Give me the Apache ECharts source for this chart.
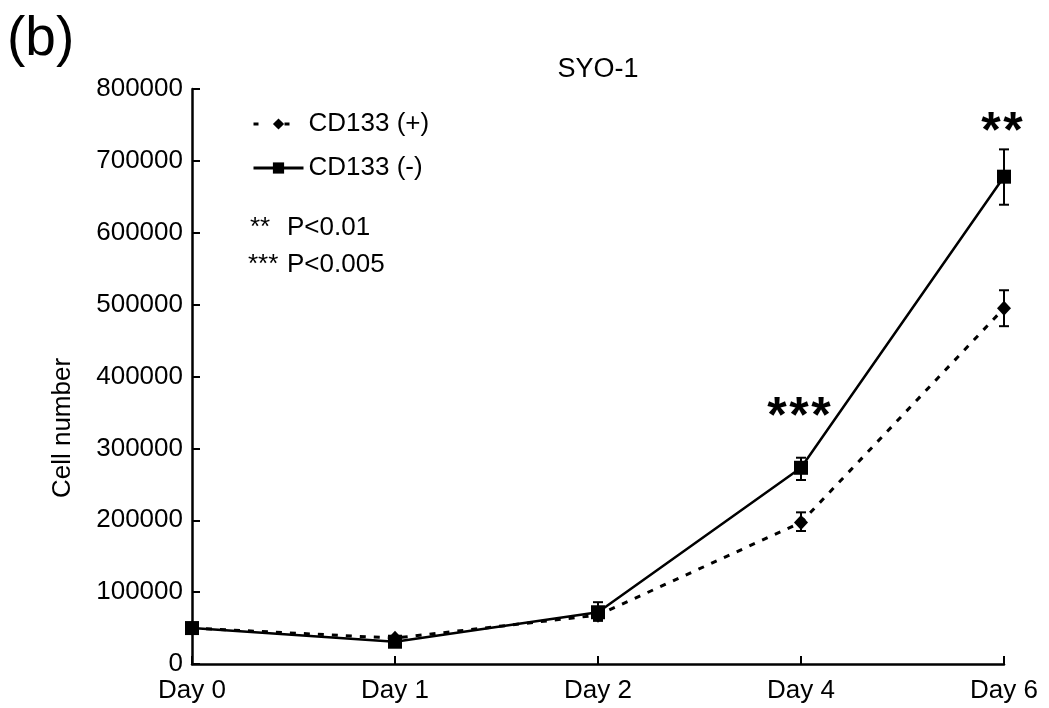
<!DOCTYPE html>
<html><head><meta charset="utf-8">
<script src="https://cdn.jsdelivr.net/npm/echarts@6/dist/echarts.min.js"></script>
<style>html,body{margin:0;padding:0;background:#fff}#c{width:1049px;height:708px}</style>
</head><body><div id="c"></div>
<script>
const categories = ['Day 0', 'Day 1', 'Day 2', 'Day 4', 'Day 6'];
const posValues = [50000, 36000, 68000, 197000, 495000];
const posLow = [null, null, 62000, 185000, 470000];
const posHigh = [null, null, 76000, 211000, 520000];
const negValues = [50000, 31000, 72000, 273000, 678000];
const negLow = [null, null, 60000, 256000, 639000];
const negHigh = [null, null, 86000, 287000, 716000];
const yTicks = [0, 100000, 200000, 300000, 400000, 500000, 600000, 700000, 800000];
const annotations = [{cat: 'Day 4', value: 342000, text: '***'}, {cat: 'Day 6', value: 738000, text: '**'}];

const FONT = 'Arial, "Liberation Sans", sans-serif';
const FS = 26;
const chart = echarts.init(document.getElementById('c'), null, {renderer: 'canvas'});

function errData(low, high) {
  const out = [];
  for (let i = 0; i < categories.length; i++) {
    if (low[i] != null) out.push([i, low[i], high[i]]);
  }
  return out;
}
function errSeries(low, high) {
  return {
    type: 'custom', z: 3, silent: true,
    data: errData(low, high),
    renderItem: function (params, api) {
      const x = api.value(0);
      const a = api.coord([x, api.value(1)]);
      const b = api.coord([x, api.value(2)]);
      const w = 5;
      const st = {stroke: '#000', lineWidth: 2};
      return {type: 'group', children: [
        {type: 'line', shape: {x1: a[0], y1: a[1], x2: b[0], y2: b[1]}, style: st},
        {type: 'line', shape: {x1: a[0] - w, y1: a[1], x2: a[0] + w, y2: a[1]}, style: st},
        {type: 'line', shape: {x1: b[0] - w, y1: b[1], x2: b[0] + w, y2: b[1]}, style: st}
      ]};
    }
  };
}

chart.setOption({
  animation: false,
  backgroundColor: '#fff',
  textStyle: {fontFamily: FONT, color: '#000'},
  title: {text: 'SYO-1', left: 593, top: 51, textAlign: 'center',
    textStyle: {fontFamily: FONT, fontSize: 27, fontWeight: 'normal', color: '#000'}},
  grid: {left: 192, right: 45, top: 89, bottom: 44, containLabel: false},
  legend: {
    orient: 'vertical', left: 247, top: 106, itemWidth: 50, itemHeight: 14, itemGap: 18,
    textStyle: {fontFamily: FONT, fontSize: FS, color: '#000'},
    data: [
      {name: 'CD133 (+)', lineStyle: {type: [5, 26], width: 3}},
      {name: 'CD133 (-)', lineStyle: {width: 3}}
    ]
  },
  xAxis: {
    type: 'category', data: categories, boundaryGap: false,
    axisLine: {lineStyle: {color: '#000', width: 2.5}},
    axisTick: {inside: true, length: 8, lineStyle: {color: '#000', width: 2}},
    axisLabel: {fontFamily: FONT, fontSize: FS, color: '#000', margin: 14},
    splitLine: {show: false}
  },
  yAxis: {
    type: 'value', min: 0, max: 800000, interval: 100000,
    axisLine: {show: true, lineStyle: {color: '#000', width: 2.5}},
    axisTick: {show: true, inside: true, length: 8, lineStyle: {color: '#000', width: 2}},
    axisLabel: {fontFamily: FONT, fontSize: FS, color: '#000', margin: 9,
      formatter: function (v) { return yTicks.indexOf(v) >= 0 ? String(v) : ''; }},
    splitLine: {show: false}
  },
  graphic: [
    {type: 'text', left: 7, top: 12, style: {text: '(b)', font: '55px ' + FONT, fill: '#000'}},
    {type: 'text', x: 63, y: 428, rotation: Math.PI / 2,
      style: {text: 'Cell number', font: FS + 'px ' + FONT, fill: '#000', align: 'center', verticalAlign: 'middle'}},
    {type: 'text', x: 250, y: 228, style: {text: '**', font: FS + 'px ' + FONT, fill: '#000', verticalAlign: 'middle'}},
    {type: 'text', x: 287, y: 228, style: {text: 'P<0.01', font: FS + 'px ' + FONT, fill: '#000', verticalAlign: 'middle'}},
    {type: 'text', x: 248, y: 265, style: {text: '***', font: FS + 'px ' + FONT, fill: '#000', verticalAlign: 'middle'}},
    {type: 'text', x: 287, y: 265, style: {text: 'P<0.005', font: FS + 'px ' + FONT, fill: '#000', verticalAlign: 'middle'}}
  ],
  series: [
    {name: 'CD133 (+)', type: 'line', data: posValues, z: 4,
      symbol: 'diamond', symbolSize: [14, 15],
      itemStyle: {color: '#000'},
      lineStyle: {color: '#000', width: 3, type: [6, 8]}},
    {name: 'CD133 (-)', type: 'line', data: negValues, z: 5,
      symbol: 'rect', symbolSize: 14,
      itemStyle: {color: '#000'},
      lineStyle: {color: '#000', width: 2.5, type: 'solid'}},
    errSeries(posLow, posHigh),
    errSeries(negLow, negHigh),
    {type: 'custom', z: 6, silent: true,
      data: annotations.map(a => [categories.indexOf(a.cat), a.value]),
      renderItem: function (params, api) {
        const p = api.coord([api.value(0), api.value(1)]);
        const txt = annotations[params.dataIndex].text;
        const n = txt.length, step = 22;
        const children = [];
        for (let i = 0; i < n; i++) {
          children.push({type: 'text', x: p[0] + (i - (n - 1) / 2) * step - 2, y: p[1],
            style: {text: '*', font: 'bold 50px ' + FONT, fill: '#000', align: 'center', verticalAlign: 'middle'}});
        }
        return {type: 'group', children: children};
      }}
  ]
});
</script></body></html>
